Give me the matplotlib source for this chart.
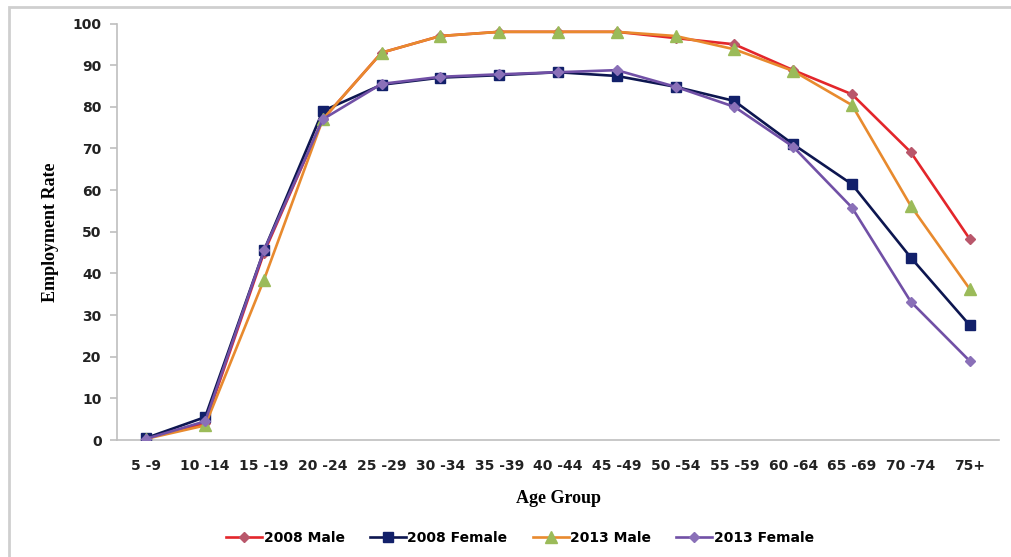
import matplotlib
matplotlib.use("Agg")
import matplotlib.pyplot as plt
from matplotlib.patches import Rectangle

# employment rate by age group
age_groups = ["5 -9", "10 -14", "15 -19", "20 -24", "25 -29", "30 -34", "35 -39",
              "40 -44", "45 -49", "50 -54", "55 -59", "60 -64", "65 -69", "70 -74", "75+"]
male_2008 = [0.5, 4.0, 45.0, 77.0, 93.0, 97.0, 98.0, 98.0, 98.0, 96.5, 95.0, 88.8, 83.0, 69.1, 48.3]
female_2008 = [0.5, 5.5, 45.5, 79.0, 85.3, 87.0, 87.6, 88.3, 87.4, 84.8, 81.4, 71.0, 61.4, 43.8, 27.6]
male_2013 = [0.3, 3.5, 38.5, 77.0, 93.0, 97.0, 98.0, 98.0, 98.0, 97.0, 93.8, 88.6, 80.4, 56.2, 36.3]
female_2013 = [0.3, 4.5, 45.5, 77.0, 85.5, 87.2, 87.8, 88.3, 88.8, 84.8, 80.0, 70.4, 55.8, 33.2, 19.0]

fig = plt.figure(figsize=(10.11, 5.57), dpi=100)
ax = fig.add_axes([117 / 1011, 1 - 440 / 557, 882 / 1011, 416.5 / 557])

x = range(len(age_groups))
ax.plot(x, male_2008, color="#E3262B", lw=1.9, marker="D", ms=5.5,
        mfc="#B9576B", mec="#B9576B", label="2008 Male", zorder=3)
ax.plot(x, female_2008, color="#0D1650", lw=1.9, marker="s", ms=7,
        mfc="#12206A", mec="#12206A", label="2008 Female", zorder=4)
ax.plot(x, male_2013, color="#E88A2E", lw=1.9, marker="^", ms=8,
        mfc="#9BBB59", mec="#9BBB59", label="2013 Male", zorder=5)
ax.plot(x, female_2013, color="#7150A6", lw=1.9, marker="D", ms=5.5,
        mfc="#8A70B8", mec="#8A70B8", label="2013 Female", zorder=6)

ax.set_xlim(-0.5, len(age_groups) - 0.5)
ax.set_ylim(0, 100)
ax.set_yticks(range(0, 101, 10))
ax.set_xticks(list(x))
ax.set_xticklabels(age_groups)

for side in ["top", "right"]:
    ax.spines[side].set_visible(False)
for side in ["left", "bottom"]:
    ax.spines[side].set_color("#BFBFBF")
    ax.spines[side].set_linewidth(1.2)
ax.tick_params(axis="y", length=5, width=1.2, color="#BFBFBF", pad=6)
ax.tick_params(axis="x", length=0, pad=14)
for lbl in ax.get_xticklabels() + ax.get_yticklabels():
    lbl.set_fontweight("bold")
    lbl.set_fontsize(10)
    lbl.set_color("#222222")

ax.set_xlabel("Age Group", family="Liberation Serif", fontweight="bold", fontsize=13, labelpad=12)
ax.set_ylabel("Employment Rate", family="Liberation Serif", fontweight="bold", fontsize=13, labelpad=10)

fig.legend(loc="center", bbox_to_anchor=(520 / 1011, 1 - 538 / 557), ncol=4, frameon=False,
           prop={"weight": "bold", "size": 10}, handlelength=2.6, handletextpad=0.1,
           columnspacing=1.8)

# light gray frame around the chart area
fig.patches.append(Rectangle((9 / 1011, -0.02), 1.0, 1 - 7 / 557 + 0.02, transform=fig.transFigure,
                             fill=False, edgecolor="#CFCFCF", lw=2))

fig.savefig("out.png", dpi=100)
